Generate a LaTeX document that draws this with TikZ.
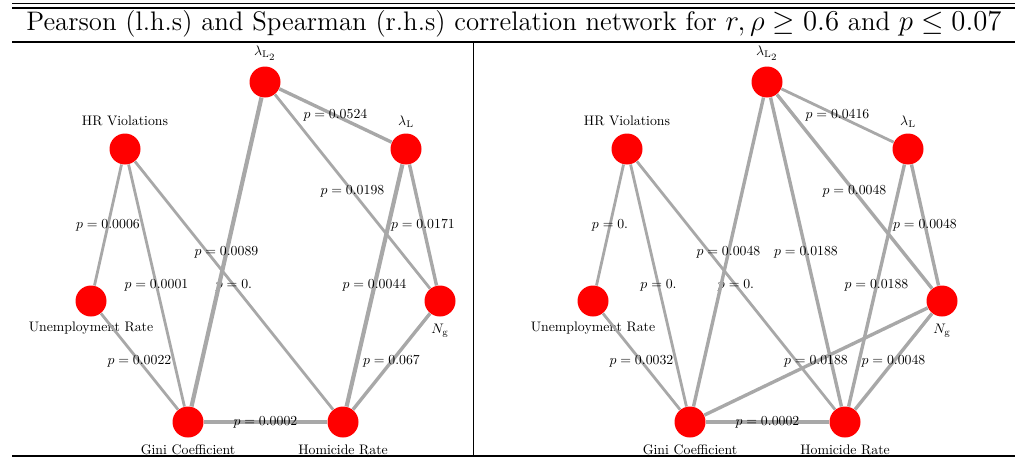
\documentclass[tikz,border=0pt]{standalone}
\usepackage{tikz}
\definecolor{edgegray}{RGB}{168,168,168}
\definecolor{nodered}{RGB}{255,0,0}
\tikzset{
  vertex/.style={circle, fill=nodered, minimum size=15.5pt, inner sep=0pt},
  vname/.style={font=\fontsize{10}{12}\selectfont, scale=0.69, inner sep=0pt},
  pval/.style={font=\fontsize{10}{12}\selectfont, scale=0.69, inner sep=0pt},
  edge/.style={draw=edgegray, line width=1.4pt},
  edgemid/.style={draw=edgegray, line width=1.7pt},
  edgethick/.style={draw=edgegray, line width=2.1pt},
  rulethin/.style={line width=0.4pt},
  rulethick/.style={line width=0.8pt}
}

\begin{document}
\begin{tikzpicture}[x=0.5pt, y=-0.5pt]
		%%%%% START %%%%%
		\useasboundingbox (0,0) rectangle (1036,462);
		
		% table rules
		\draw[rulethin] (12,3) -- (1015,3);
		\draw[rulethick] (12,8) -- (1015,8);
		\draw[rulethick] (12,42) -- (1015,42);
		\draw[rulethick] (12,456) -- (1015,456);
		\draw[rulethin] (473,42) -- (473,456);
		
		\node[inner sep=0pt, font=\fontsize{13.4}{16}\selectfont] (title) at (514,24)
			{Pearson (l.h.s) and Spearman (r.h.s) correlation network for $r,\rho\geq 0.6$ and $p\leq 0.07$};
		
		%%%%% PEARSON %%%%%
		\node[vertex] (lamtwoP) at (265,82) {};
		\node[vertex] (hrP) at (125,149) {};
		\node[vertex] (lamP) at (406,149) {};
		\node[vertex] (unempP) at (91,301) {};
		\node[vertex] (ngP) at (440,301) {};
		\node[vertex] (giniP) at (188,422) {};
		\node[vertex] (homP) at (343,422) {};
		
		\node[vname] (lamtwoPname) at (265,53) {$\lambda_{\mathrm{L}_{\scriptstyle 2}}$};
		\node[vname] (hrPname) at (125,121) {HR Violations};
		\node[vname] (lamPname) at (406,122) {$\lambda_{\mathrm{L}}$};
		\node[vname] (unempPname) at (91,328) {Unemployment Rate};
		\node[vname] (ngPname) at (440,331) {$N_{\mathrm{g}}$};
		\node[vname] (giniPname) at (188,450) {Gini Coefficient};
		\node[vname] (homPname) at (343,450) {Homicide Rate};
		
		\draw[edge] (hrP) -- node[pval] {$p=0.0006$} (unempP);
		\draw[edge] (hrP) -- node[pval] {$p=0.0001$} (giniP);
		\draw[edge] (hrP) -- node[pval] {$p=0.$} (homP);
		\draw[edgethick] (lamtwoP) -- node[pval] {$p=0.0089$} (giniP);
		\draw[edgemid] (lamtwoP) -- node[pval] {$p=0.0524$} (lamP);
		\draw[edge] (lamtwoP) -- node[pval] {$p=0.0198$} (ngP);
		\draw[edgemid] (lamP) -- node[pval] {$p=0.0171$} (ngP);
		\draw[edgethick] (lamP) -- node[pval] {$p=0.0044$} (homP);
		\draw[edge] (unempP) -- node[pval] {$p=0.0022$} (giniP);
		\draw[edgemid] (ngP) -- node[pval] {$p=0.067$} (homP);
		\draw[edgethick] (giniP) -- node[pval] {$p=0.0002$} (homP);
		
		%%%%% SPEARMAN %%%%%
		\node[vertex] (lamtwoS) at (767,82) {};
		\node[vertex] (hrS) at (627,149) {};
		\node[vertex] (lamS) at (908,149) {};
		\node[vertex] (unempS) at (593,301) {};
		\node[vertex] (ngS) at (942,301) {};
		\node[vertex] (giniS) at (690,422) {};
		\node[vertex] (homS) at (845,422) {};
		
		\node[vname] (lamtwoSname) at (767,53) {$\lambda_{\mathrm{L}_{\scriptstyle 2}}$};
		\node[vname] (hrSname) at (627,121) {HR Violations};
		\node[vname] (lamSname) at (908,122) {$\lambda_{\mathrm{L}}$};
		\node[vname] (unempSname) at (593,328) {Unemployment Rate};
		\node[vname] (ngSname) at (942,331) {$N_{\mathrm{g}}$};
		\node[vname] (giniSname) at (690,450) {Gini Coefficient};
		\node[vname] (homSname) at (845,450) {Homicide Rate};
		
		\draw[edge] (hrS) -- node[pval] {$p=0.$} (unempS);
		\draw[edge] (hrS) -- node[pval] {$p=0.$} (giniS);
		\draw[edge] (hrS) -- node[pval] {$p=0.$} (homS);
		\draw[edgemid] (lamtwoS) -- node[pval] {$p=0.0048$} (giniS);
		\draw[edgemid] (lamtwoS) -- node[pval] {$p=0.0188$} (homS);
		\draw[edge] (lamtwoS) -- node[pval] {$p=0.0416$} (lamS);
		\draw[edgemid] (lamtwoS) -- node[pval] {$p=0.0048$} (ngS);
		\draw[edgemid] (lamS) -- node[pval] {$p=0.0048$} (ngS);
		\draw[edgemid] (lamS) -- node[pval] {$p=0.0188$} (homS);
		\draw[edge] (unempS) -- node[pval] {$p=0.0032$} (giniS);
		\draw[edgemid] (giniS) -- node[pval] {$p=0.0188$} (ngS);
		\draw[edgemid] (ngS) -- node[pval] {$p=0.0048$} (homS);
		\draw[edgethick] (giniS) -- node[pval] {$p=0.0002$} (homS);
		
		%%%%% END %%%%%
	\end{tikzpicture}
\end{document}
